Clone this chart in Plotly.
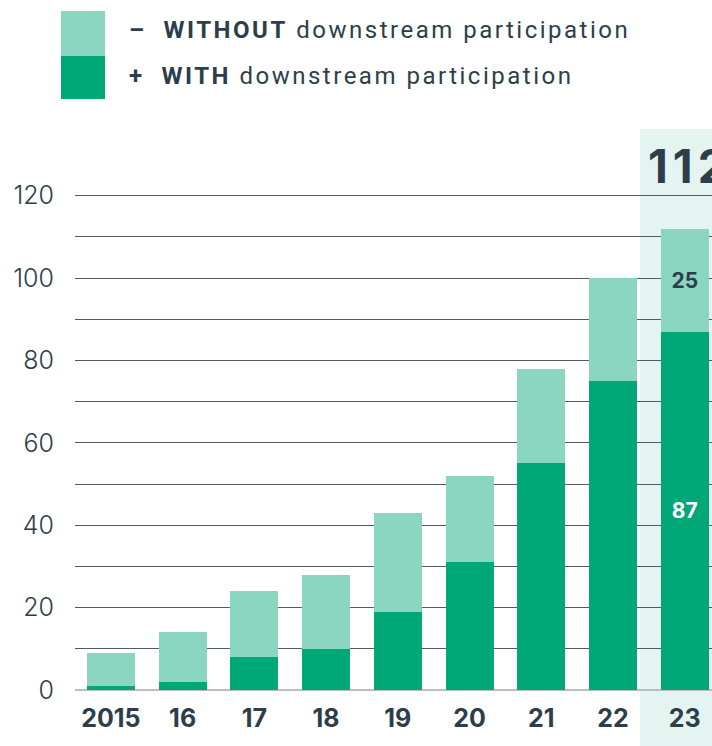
import plotly.graph_objects as go

years = ["2015", "16", "17", "18", "19", "20", "21", "22", "23"]
with_dp = [1, 2, 8, 10, 19, 31, 55, 75, 87]
without_dp = [8, 12, 16, 18, 24, 21, 23, 25, 25]
totals = [a + b for a, b in zip(with_dp, without_dp)]
y_ticks = [0, 10, 20, 30, 40, 50, 60, 70, 80, 90, 100, 110, 120]
y_ticktext = [str(v) if v % 20 == 0 else "" for v in y_ticks]

DARK = "#00a878"
LIGHT = "#8bd6c1"
HILITE = "#e4f4f0"
TXT = "#2d3e4a"

W, H = 712, 746
ML, MR, MT, MB = 75, 0, 175, 56
PW, PH = W - ML - MR, H - MT - MB


def px(xr):  # window x -> paper
    return (xr - ML) / PW


def py(yr):  # window y -> paper
    return (H - MB - yr) / PH


x_idx = list(range(len(years)))
last = len(years) - 1
with_text = [str(v) if i == last else "" for i, v in enumerate(with_dp)]
without_text = [str(v) if i == last else "" for i, v in enumerate(without_dp)]

fig = go.Figure()
fig.add_trace(go.Bar(
    x=x_idx, y=with_dp, marker=dict(color=DARK, line=dict(width=0)),
    text=with_text, textposition="inside", insidetextanchor="middle",
    textfont=dict(family="Inter", size=21, color="white", weight="bold"),
    textangle=0, showlegend=False, hoverinfo="skip",
))
fig.add_trace(go.Bar(
    x=x_idx, y=without_dp, marker=dict(color=LIGHT, line=dict(width=0)),
    text=without_text, textposition="inside", insidetextanchor="middle",
    textfont=dict(family="Inter", size=21, color=TXT, weight="bold"),
    textangle=0, showlegend=False, hoverinfo="skip",
))

leg_style = "letter-spacing:2.5px"
fig.update_layout(
    width=W, height=H,
    margin=dict(l=ML, r=MR, t=MT, b=MB),
    barmode="stack", bargap=0.33,
    plot_bgcolor="white", paper_bgcolor="white",
    font=dict(family="Inter", color=TXT),
    xaxis=dict(
        range=[-0.5, 8.38], tickvals=x_idx, ticktext=years,
        tickfont=dict(family="Inter", size=25, color=TXT, weight="bold"),
        showgrid=False, zeroline=False, showline=False, ticks="",
        ticklabelstandoff=11, fixedrange=True,
    ),
    yaxis=dict(
        range=[0, 125], tickvals=y_ticks, ticktext=y_ticktext,
        tickfont=dict(family="Inter", size=25, color=TXT, weight=300),
        showgrid=True, gridcolor="#4f5c66", gridwidth=1,
        zeroline=True, zerolinecolor="#bdbdbd", zerolinewidth=2,
        showline=False, ticks="", ticklabelstandoff=20, fixedrange=True,
    ),
    shapes=[
        dict(type="rect", xref="x", yref="paper", x0=7.377, x1=8.62,
             y0=py(760), y1=py(129), fillcolor=HILITE, line=dict(width=0), layer="below"),
        dict(type="rect", xref="paper", yref="paper",
             x0=px(61), x1=px(105), y0=py(56), y1=py(11),
             fillcolor=LIGHT, line=dict(width=0)),
        dict(type="rect", xref="paper", yref="paper",
             x0=px(61), x1=px(105), y0=py(99), y1=py(56),
             fillcolor=DARK, line=dict(width=0)),
    ],
    annotations=[
        dict(x=last - 0.535, y=py(166), xref="x", yref="paper",
             text="<span style='letter-spacing:5px'><b>%d</b></span>" % totals[last],
             showarrow=False, xanchor="left", yanchor="middle",
             font=dict(family="Inter", size=46, color=TXT)),
        dict(xref="paper", yref="paper", x=px(127), y=py(30),
             xanchor="left", yanchor="middle", showarrow=False,
             text="<span style='%s'><b>–  WITHOUT</b> downstream participation</span>" % leg_style,
             font=dict(family="Roboto", size=24, color=TXT)),
        dict(xref="paper", yref="paper", x=px(127), y=py(76),
             xanchor="left", yanchor="middle", showarrow=False,
             text="<span style='%s'><b>+  WITH</b> downstream participation</span>" % leg_style,
             font=dict(family="Roboto", size=24, color=TXT)),
    ],
)

fig.write_html(
    "out.html",
    config={"displayModeBar": False, "staticPlot": True},
    post_script="document.body.style.margin='0';"
                "document.documentElement.style.overflow='hidden';"
                "document.body.style.overflow='hidden';",
)
